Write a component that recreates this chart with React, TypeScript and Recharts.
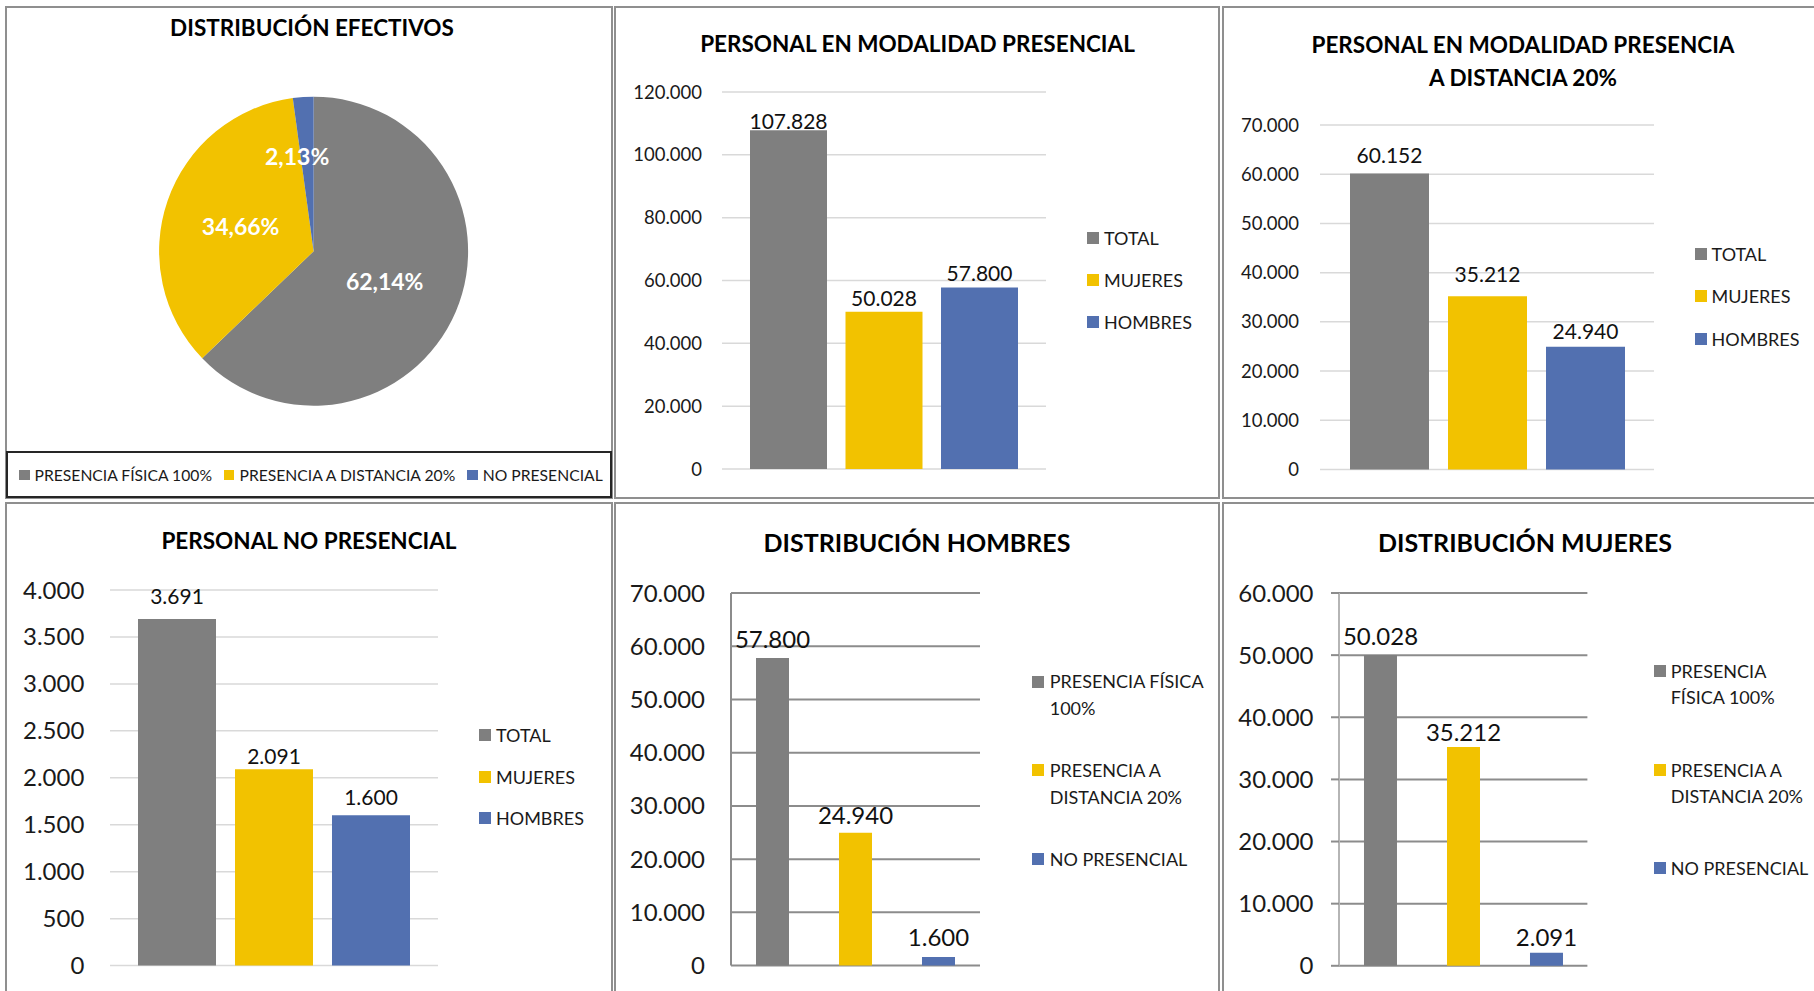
import React from 'react';
import { PieChart, Pie, Cell, BarChart, Bar, XAxis, YAxis, CartesianGrid, LabelList } from 'recharts';

const FONT = 'Lato, "Open Sans", sans-serif';

// ---------- DATA ----------
const efectivosCategories = ['PRESENCIA FÍSICA 100%', 'PRESENCIA A DISTANCIA 20%', 'NO PRESENCIAL'];
const efectivosPercents = [62.14, 34.66, 2.13];

const sexoSeries = ['TOTAL', 'MUJERES', 'HOMBRES'];
const presencialValues = [107828, 50028, 57800];
const distanciaValues = [60152, 35212, 24940];
const noPresencialValues = [3691, 2091, 1600];

const modalidadSeries = ['PRESENCIA FÍSICA 100%', 'PRESENCIA A DISTANCIA 20%', 'NO PRESENCIAL'];
const hombresValues = [57800, 24940, 1600];
const mujeresValues = [50028, 35212, 2091];

const presencialTicks = [0, 20000, 40000, 60000, 80000, 100000, 120000];
const distanciaTicks = [0, 10000, 20000, 30000, 40000, 50000, 60000, 70000];
const noPresencialTicks = [0, 500, 1000, 1500, 2000, 2500, 3000, 3500, 4000];
const hombresTicks = [0, 10000, 20000, 30000, 40000, 50000, 60000, 70000];
const mujeresTicks = [0, 10000, 20000, 30000, 40000, 50000, 60000];

const COLORS = ['#7F7F7F', '#F2C200', '#5270B0'];

const fmt = (v: any) => String(Math.round(Number(v))).replace(/\B(?=(\d{3})+(?!\d))/g, '.');
const fmtPct = (v: number) => v.toFixed(2).replace('.', ',') + '%';

// ---------- HELPERS ----------
type Rect = { x: number; y: number; w: number; h: number };

function Panel({ x, y, w, h }: { x: number; y: number; w: number; h: number }) {
  return (
    <div
      style={{
        position: 'absolute',
        left: x,
        top: y,
        width: w,
        height: h,
        boxSizing: 'border-box',
        border: '2px solid #8f8f8f',
      }}
    />
  );
}

function Title({ cx, cy, lines, size, lh }: { cx: number; cy: number; lines: string[]; size: number; lh: number }) {
  return (
    <div
      style={{
        position: 'absolute',
        left: cx - 400,
        width: 800,
        top: cy - lh / 2,
        textAlign: 'center',
        fontFamily: FONT,
        fontWeight: 700,
        fontSize: size,
        lineHeight: lh + 'px',
        color: '#000',
        whiteSpace: 'nowrap',
      }}
    >
      {lines.map((l, i) => (
        <div key={i}>{l}</div>
      ))}
    </div>
  );
}

function VLegend({
  names,
  sqX,
  textX,
  ys,
  size,
  lh,
  width,
}: {
  names: string[];
  sqX: number;
  textX: number;
  ys: number[];
  size: number;
  lh: number;
  width: number;
}) {
  return (
    <>
      {names.map((n, i) => (
        <React.Fragment key={n}>
          <div
            style={{
              position: 'absolute',
              left: sqX,
              top: ys[i] - 6,
              width: 12,
              height: 12,
              background: COLORS[i],
            }}
          />
          <div
            style={{
              position: 'absolute',
              left: textX,
              top: ys[i] - lh / 2,
              width,
              fontFamily: FONT,
              fontSize: size,
              lineHeight: lh + 'px',
              color: '#1a1a1a',
            }}
          >
            {n}
          </div>
        </React.Fragment>
      ))}
    </>
  );
}

type BarPanelProps = {
  plot: Rect;
  names: string[];
  values: number[];
  ticks: number[];
  barSize: number;
  barGap: number;
  tickFont: number;
  labelFont: number;
  labelOffsets: number[];
  gridColor: string;
  gridWidth: number;
  axisColor?: string;
  tickLen: number;
  tickGap: number;
};

function BarPanel(p: BarPanelProps) {
  const LM = 140,
    TM = 60,
    RM = 10,
    BM = 24;
  const row: any = { cat: 'c' };
  p.names.forEach((n, i) => {
    row['s' + i] = p.values[i];
  });
  return (
    <div style={{ position: 'absolute', left: p.plot.x - LM, top: p.plot.y - TM }}>
      <BarChart
        width={LM + p.plot.w + RM}
        height={TM + p.plot.h + BM}
        data={[row]}
        margin={{ top: TM, right: RM, bottom: BM, left: 0 }}
        barGap={p.barGap}
      >
        <CartesianGrid vertical={false} stroke={p.gridColor} strokeWidth={p.gridWidth} />
        <XAxis dataKey="cat" hide />
        <YAxis
          type="number"
          width={LM}
          domain={[0, p.ticks[p.ticks.length - 1]]}
          ticks={p.ticks}
          interval={0}
          tickFormatter={fmt}
          axisLine={p.axisColor ? { stroke: p.axisColor, strokeWidth: 2 } : false}
          tickLine={p.tickLen ? { stroke: p.gridColor, strokeWidth: p.gridWidth } : false}
          tickSize={p.tickLen}
          tickMargin={p.tickGap}
          tick={{ fill: '#1a1a1a', fontSize: p.tickFont, fontFamily: FONT }}
        />
        {p.names.map((n, i) => (
          <Bar key={n} dataKey={'s' + i} name={n} fill={COLORS[i]} barSize={p.barSize} isAnimationActive={false}>
            <LabelList
              dataKey={'s' + i}
              position="top"
              offset={p.labelOffsets[i]}
              formatter={fmt}
              fill="#111"
              fontSize={p.labelFont}
              fontFamily={FONT}
            />
          </Bar>
        ))}
      </BarChart>
    </div>
  );
}

const RAD = Math.PI / 180;
function renderPieLabel(props: any) {
  const { cx, cy, midAngle, outerRadius, index, value } = props;
  const f = index === 2 ? 0.62 : 0.5;
  const r = outerRadius * f;
  const x = cx + r * Math.cos(-midAngle * RAD) + (index === 2 ? -10 : 0);
  const y = cy + r * Math.sin(-midAngle * RAD);
  return (
    <text
      x={x}
      y={y}
      textAnchor="middle"
      dominantBaseline="central"
      fill="#fff"
      fontFamily={FONT}
      fontWeight={700}
      fontSize={23}
    >
      {fmtPct(value)}
    </text>
  );
}

export default function App() {
  const pieData = efectivosCategories.map((name, i) => ({ name, value: efectivosPercents[i] }));
  return (
    <div
      style={{
        position: 'absolute',
        left: 0,
        top: 0,
        width: 1814,
        height: 991,
        overflow: 'hidden',
        background: '#fff',
        fontFamily: FONT,
      }}
    >
      {/* panel frames */}
      <Panel x={5} y={6} w={608} h={493} />
      <Panel x={614} y={6} w={606} h={493} />
      <Panel x={1222} y={6} w={600} h={493} />
      <Panel x={5} y={502} w={608} h={500} />
      <Panel x={614} y={502} w={606} h={500} />
      <Panel x={1222} y={502} w={600} h={500} />

      {/* ---------- Panel 1: pie ---------- */}
      <Title cx={312} cy={27.5} lines={['DISTRIBUCIÓN EFECTIVOS']} size={22.5} lh={30} />
      <div style={{ position: 'absolute', left: 0, top: 0 }}>
        <PieChart width={620} height={450} margin={{ top: 0, right: 0, bottom: 0, left: 0 }}>
          <Pie
            data={pieData}
            dataKey="value"
            nameKey="name"
            cx={313.6}
            cy={251.2}
            outerRadius={154.5}
            startAngle={90}
            endAngle={-270}
            stroke="none"
            label={renderPieLabel}
            labelLine={false}
            isAnimationActive={false}
          >
            {pieData.map((d, i) => (
              <Cell key={d.name} fill={COLORS[i]} />
            ))}
          </Pie>
        </PieChart>
      </div>
      <div
        style={{
          position: 'absolute',
          left: 6,
          top: 451,
          width: 606,
          height: 47,
          boxSizing: 'border-box',
          border: '2px solid #262626',
        }}
      />
      <div
        style={{
          position: 'absolute',
          left: 19,
          top: 475 - 10,
          height: 20,
          display: 'flex',
          alignItems: 'center',
          whiteSpace: 'nowrap',
          fontFamily: FONT,
          fontSize: 15.7,
          color: '#1a1a1a',
        }}
      >
        {efectivosCategories.map((n, i) => (
          <React.Fragment key={n}>
            <span style={{ display: 'inline-block', width: 10.5, height: 10.5, background: COLORS[i], marginRight: 5 }} />
            <span style={{ marginRight: 12 }}>{n}</span>
          </React.Fragment>
        ))}
      </div>

      {/* ---------- Panel 2 ---------- */}
      <Title cx={917.5} cy={44} lines={['PERSONAL EN MODALIDAD PRESENCIAL']} size={22.5} lh={30} />
      <BarPanel
        plot={{ x: 722, y: 92, w: 324, h: 377 }}
        names={sexoSeries}
        values={presencialValues}
        ticks={presencialTicks}
        barSize={77}
        barGap={18.5}
        tickFont={18.5}
        labelFont={21}
        labelOffsets={[1.5, 6, 6.5]}
        gridColor="#d9d9d9"
        gridWidth={1.5}
        tickLen={0}
        tickGap={20}
      />
      <VLegend names={sexoSeries} sqX={1087} textX={1104} ys={[238, 280, 322]} size={18} lh={24} width={150} />

      {/* ---------- Panel 3 ---------- */}
      <Title cx={1523} cy={44.5} lines={['PERSONAL EN MODALIDAD PRESENCIA', 'A DISTANCIA 20%']} size={22.5} lh={33} />
      <BarPanel
        plot={{ x: 1320, y: 124.5, w: 334, h: 344.5 }}
        names={sexoSeries}
        values={distanciaValues}
        ticks={distanciaTicks}
        barSize={79}
        barGap={19}
        tickFont={18.5}
        labelFont={21}
        labelOffsets={[10, 14, 7.7]}
        gridColor="#d9d9d9"
        gridWidth={1.5}
        tickLen={0}
        tickGap={21}
      />
      <VLegend names={sexoSeries} sqX={1695} textX={1711.6} ys={[254, 296, 339]} size={18} lh={24} width={150} />

      {/* ---------- Panel 4 ---------- */}
      <Title cx={309} cy={541} lines={['PERSONAL NO PRESENCIAL']} size={22.5} lh={30} />
      <BarPanel
        plot={{ x: 109.5, y: 589.7, w: 328, h: 375.6 }}
        names={sexoSeries}
        values={noPresencialValues}
        ticks={noPresencialTicks}
        barSize={78}
        barGap={19}
        tickFont={24}
        labelFont={21}
        labelOffsets={[15, 5.7, 10.7]}
        gridColor="#d9d9d9"
        gridWidth={1.5}
        tickLen={0}
        tickGap={25.7}
      />
      <VLegend names={sexoSeries} sqX={479} textX={496} ys={[735, 776.7, 818.3]} size={18} lh={24} width={150} />

      {/* ---------- Panel 5 ---------- */}
      <Title cx={917} cy={541.7} lines={['DISTRIBUCIÓN HOMBRES']} size={25} lh={32} />
      <BarPanel
        plot={{ x: 730.7, y: 592.7, w: 249, h: 372.6 }}
        names={modalidadSeries}
        values={hombresValues}
        ticks={hombresTicks}
        barSize={33}
        barGap={50}
        tickFont={24}
        labelFont={24}
        labelOffsets={[10, 9.3, 11.3]}
        gridColor="#8c8c8c"
        gridWidth={2}
        axisColor="#8c8c8c"
        tickLen={0}
        tickGap={26}
      />
      <VLegend
        names={modalidadSeries}
        sqX={1032}
        textX={1049.7}
        ys={[681.7, 770.3, 859.3]}
        size={18}
        lh={26.5}
        width={165}
      />

      {/* ---------- Panel 6 ---------- */}
      <Title cx={1525} cy={541.7} lines={['DISTRIBUCIÓN MUJERES']} size={25} lh={32} />
      <BarPanel
        plot={{ x: 1339, y: 592.5, w: 248.4, h: 372.8 }}
        names={modalidadSeries}
        values={mujeresValues}
        ticks={mujeresTicks}
        barSize={33}
        barGap={50}
        tickFont={24}
        labelFont={24}
        labelOffsets={[10, 5.7, 6.7]}
        gridColor="#8c8c8c"
        gridWidth={2}
        axisColor="#b5b5b5"
        tickLen={8}
        tickGap={17.5}
      />
      <VLegend
        names={modalidadSeries}
        sqX={1654}
        textX={1670.7}
        ys={[670.7, 770, 868.3]}
        size={18}
        lh={26}
        width={145}
      />
    </div>
  );
}
